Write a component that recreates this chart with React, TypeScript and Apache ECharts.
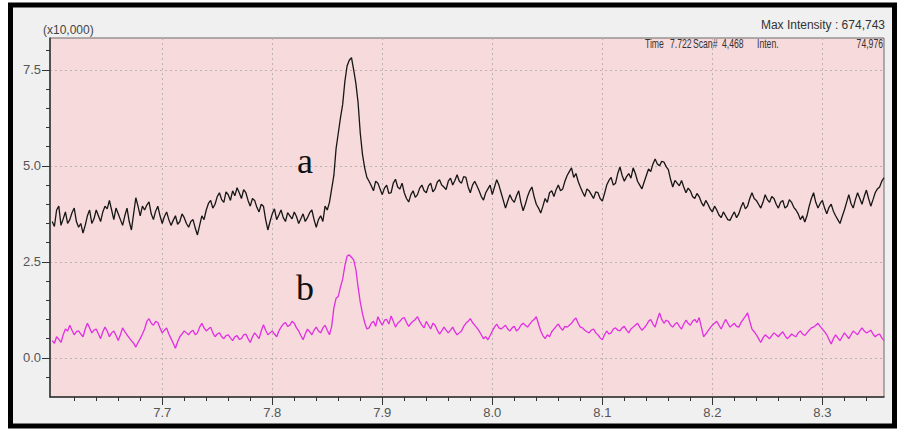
import React, { useEffect, useRef } from "react";
import * as echarts from "echarts";

// Scan time axis (min) of the sampled trace
const scanStart = 7.6;
const scanStep = 0.002;

// Trace a (black), intensity in units of x10,000
const traceA = [
  3.55, 3.42, 3.85, 3.95, 3.45, 3.62, 3.8, 3.5, 3.6, 3.78, 3.9, 3.55, 3.4, 3.5, 3.25, 3.45, 3.7, 3.85, 3.5, 3.62,
  3.85, 3.7, 3.55, 3.8, 3.95, 3.88, 4.1, 3.85, 3.6, 3.9, 3.75, 3.6, 3.45, 3.7, 3.9, 3.55, 3.33, 3.75, 4.17, 3.95,
  3.7, 3.95, 3.85, 3.98, 4.06, 3.75, 3.6, 3.82, 3.95, 3.7, 3.5, 3.68, 3.8, 3.6, 3.45, 3.58, 3.7, 3.48, 3.55, 3.75,
  3.65, 3.5, 3.4, 3.55, 3.6, 3.38, 3.2, 3.45, 3.7, 3.6, 3.85, 4.02, 4.1, 3.9, 4.0, 4.2, 4.3, 4.12, 4.05, 4.32,
  4.25, 4.1, 4.35, 4.22, 4.43, 4.3, 4.15, 4.38, 4.3, 4.1, 3.95, 4.15, 4.1, 3.92, 3.8, 4.0, 3.95, 3.6, 3.33, 3.55,
  3.75, 3.88, 3.6, 3.72, 3.85, 3.65, 3.55, 3.78, 3.7, 3.62, 3.8, 3.68, 3.5, 3.62, 3.75, 3.55, 3.65, 3.78, 3.85, 3.6,
  3.4, 3.6, 3.7, 3.55, 3.95, 3.85, 4.05, 4.4, 4.75, 5.45, 5.85, 6.25, 6.6, 7.2, 7.6, 7.75, 7.82, 7.5, 7.15, 6.65,
  5.85, 5.3, 4.95, 4.7, 4.6, 4.48, 4.35, 4.6, 4.55, 4.4, 4.25, 4.42, 4.5, 4.28, 4.3, 4.55, 4.65, 4.45, 4.4, 4.55,
  4.3, 4.15, 4.06, 4.25, 4.35, 4.18, 4.25, 4.42, 4.5, 4.35, 4.3, 4.48, 4.55, 4.32, 4.4, 4.58, 4.64, 4.5, 4.45, 4.38,
  4.6, 4.68, 4.5, 4.62, 4.77, 4.6, 4.55, 4.72, 4.7, 4.45, 4.3, 4.5, 4.6, 4.48, 4.35, 4.2, 4.11, 4.3, 4.4, 4.5,
  4.25, 4.45, 4.64, 4.5, 4.3, 4.1, 3.9, 4.08, 4.25, 4.12, 4.05, 4.22, 4.35, 4.05, 3.83, 4.0, 4.2, 4.35, 4.45, 4.2,
  4.0, 3.9, 3.77, 3.95, 4.15, 4.05, 4.3, 4.35, 4.2, 4.38, 4.5, 4.35, 4.4, 4.6, 4.75, 4.85, 4.95, 4.7, 4.8, 4.6,
  4.45, 4.32, 4.2, 4.4, 4.35, 4.25, 4.15, 4.32, 4.3, 4.15, 4.08, 4.28, 4.5, 4.62, 4.7, 4.5, 4.55, 4.8, 4.97, 4.75,
  4.6, 4.72, 4.8, 4.68, 4.95, 4.8, 4.6, 4.5, 4.4, 4.58, 4.75, 4.92, 4.85, 5.05, 5.18, 5.05, 5.0, 5.12, 5.1, 4.98,
  4.9, 4.65, 4.45, 4.62, 4.55, 4.48, 4.62, 4.45, 4.3, 4.42, 4.35, 4.2, 4.15, 4.28, 4.2, 4.05, 3.95, 4.1, 4.0, 3.88,
  3.8, 3.95, 3.85, 3.72, 3.65, 3.8, 3.7, 3.6, 3.58, 3.7, 3.8, 3.65, 3.75, 3.92, 4.05, 3.88, 3.95, 4.15, 4.3, 4.15,
  4.1, 4.0, 3.9, 4.05, 4.25, 4.12, 4.05, 4.2, 4.15, 4.0, 3.9, 4.05, 4.1, 3.9, 3.95, 4.12, 4.05, 3.92, 3.85, 3.75,
  3.6, 3.7, 3.54, 3.7, 3.95, 4.15, 4.3, 4.05, 3.9, 4.02, 4.1, 3.9, 3.75, 3.92, 4.0, 3.82, 3.7, 3.6, 3.5, 3.68,
  3.85, 4.05, 4.25, 4.02, 3.9, 4.12, 4.3, 4.15, 4.0, 4.2, 4.37, 4.15, 3.95, 4.12, 4.3, 4.4, 4.45, 4.6, 4.69,
];

// Trace b (magenta), intensity in units of x10,000
const traceB = [
  0.45, 0.38, 0.55, 0.48, 0.4, 0.6, 0.75, 0.7, 0.85, 0.72, 0.6, 0.68, 0.7, 0.62, 0.55, 0.75, 0.9, 0.78, 0.65, 0.72,
  0.75, 0.62, 0.5, 0.68, 0.8, 0.7, 0.55, 0.65, 0.7, 0.58, 0.45, 0.6, 0.78, 0.68, 0.6, 0.52, 0.45, 0.38, 0.28, 0.4,
  0.5, 0.62, 0.75, 0.95, 1.02, 0.9, 0.85, 0.95, 0.92, 0.78, 0.65, 0.72, 0.78, 0.62, 0.5, 0.38, 0.25, 0.42, 0.55, 0.62,
  0.7, 0.65, 0.6, 0.68, 0.72, 0.6, 0.65, 0.8, 0.9, 0.78, 0.7, 0.75, 0.8, 0.65, 0.55, 0.62, 0.65, 0.55, 0.5, 0.58,
  0.6, 0.52, 0.45, 0.55, 0.58, 0.48, 0.5, 0.6, 0.62, 0.5, 0.4, 0.55, 0.65, 0.58, 0.5, 0.7, 0.86, 0.72, 0.6, 0.65,
  0.7, 0.62, 0.55, 0.7, 0.8, 0.88, 0.92, 0.82, 0.85, 0.95, 0.9, 0.78, 0.7, 0.58, 0.47, 0.62, 0.75, 0.68, 0.6, 0.72,
  0.8, 0.7, 0.65, 0.78, 0.85, 0.72, 0.6, 0.82, 1.3, 1.55, 1.6, 1.85, 2.05, 2.4, 2.65, 2.68, 2.62, 2.55, 2.3, 1.85,
  1.45, 1.15, 0.92, 0.75, 0.78, 0.9, 0.95, 0.82, 1.07, 0.95, 0.85, 0.98, 1.0, 0.88, 1.09, 0.95, 0.8, 0.9, 0.95, 1.02,
  1.05, 0.92, 0.82, 0.9, 0.95, 1.0, 1.07, 0.95, 0.85, 0.78, 0.95, 0.85, 0.75, 0.9, 0.85, 0.72, 0.62, 0.7, 0.8, 0.72,
  0.65, 0.72, 0.8, 0.68, 0.6, 0.65, 0.7, 0.82, 0.9, 0.95, 1.02, 0.92, 0.85, 0.78, 0.7, 0.6, 0.5, 0.55, 0.47, 0.58,
  0.7, 0.8, 0.88, 0.78, 0.75, 0.8, 0.85, 0.75, 0.7, 0.78, 0.82, 0.7, 0.75, 0.85, 0.9, 0.85, 0.8, 0.88, 0.95, 1.0,
  1.07, 0.88, 0.7, 0.58, 0.5, 0.6, 0.55, 0.68, 0.75, 0.82, 0.88, 0.78, 0.72, 0.82, 0.8, 0.85, 0.9, 0.98, 1.04, 0.9,
  0.8, 0.78, 0.72, 0.68, 0.65, 0.72, 0.75, 0.65, 0.6, 0.52, 0.47, 0.6, 0.7, 0.62, 0.65, 0.75, 0.78, 0.72, 0.7, 0.78,
  0.82, 0.72, 0.65, 0.75, 0.8, 0.85, 0.9, 0.8, 0.72, 0.78, 0.85, 0.95, 1.0, 0.88, 0.8, 1.0, 1.17, 1.0, 0.9, 0.98,
  0.95, 0.85, 0.8, 0.88, 0.92, 0.82, 0.75, 0.88, 0.98, 0.9, 0.85, 0.95, 1.0, 0.92, 1.05, 0.8, 0.55, 0.62, 0.7, 0.78,
  0.85, 0.9, 0.95, 0.85, 0.75, 0.88, 1.0, 0.9, 0.8, 0.85, 0.9, 0.82, 0.8, 0.92, 1.0, 1.08, 1.17, 0.95, 0.75, 0.68,
  0.6, 0.5, 0.4, 0.52, 0.6, 0.55, 0.5, 0.58, 0.65, 0.6, 0.55, 0.62, 0.68, 0.58, 0.5, 0.55, 0.62, 0.58, 0.55, 0.65,
  0.7, 0.62, 0.58, 0.65, 0.72, 0.78, 0.8, 0.85, 0.9, 0.82, 0.75, 0.68, 0.6, 0.48, 0.36, 0.5, 0.6, 0.52, 0.45, 0.55,
  0.65, 0.58, 0.5, 0.6, 0.7, 0.65, 0.6, 0.7, 0.78, 0.7, 0.65, 0.68, 0.72, 0.62, 0.55, 0.6, 0.62, 0.52, 0.45,
];

const xMajorTicks = [7.7, 7.8, 7.9, 8.0, 8.1, 8.2, 8.3];
const xMinorTicks = [
  7.62, 7.64, 7.66, 7.68, 7.72, 7.74, 7.76, 7.78, 7.82, 7.84, 7.86, 7.88,
  7.92, 7.94, 7.96, 7.98, 8.02, 8.04, 8.06, 8.08, 8.12, 8.14, 8.16, 8.18,
  8.22, 8.24, 8.26, 8.28, 8.32, 8.34,
];
const yMajorTicks = [0, 2.5, 5.0, 7.5];
const yMinorTicks = [-0.5, 0.5, 1.0, 1.5, 2.0, 3.0, 3.5, 4.0, 4.5, 5.5, 6.0, 6.5, 7.0, 8.0];

// Status line texts
const statusTexts = ["Time", "7.722", "Scan#", "4,468", "Inten."];
const statusX = [645, 670, 693, 722, 757];
const statusValue = "74,976";

const X_MIN = 7.598;
const X_MAX = 8.356;
const Y_MIN = -1.02;
const Y_MAX = 8.33;

const FONT = "'Liberation Sans', Arial, sans-serif";

export default function App() {
  const ref = useRef<HTMLDivElement>(null);

  useEffect(() => {
    if (!ref.current) return;
    const chart = echarts.init(ref.current, null, { renderer: "svg" });
    const toPoints = (vals: number[]) =>
      vals.map((v, i) => [scanStart + i * scanStep, v]);

    const tickStyle = { color: "#333", width: 1 };
    const statusStyle = (text: string, align: string) => ({
      text,
      fill: "#333",
      font: `12px ${FONT}`,
      verticalAlign: "middle",
      align,
    });

    const option: any = {
      animation: false,
      backgroundColor: "#ffffff",
      grid: {
        left: 50,
        right: 13,
        top: 38,
        bottom: 33,
        show: true,
        backgroundColor: "#f6dadc",
        borderColor: "#6a6a6a",
        borderWidth: 1,
      },
      xAxis: [
        {
          type: "value",
          min: X_MIN,
          max: X_MAX,
          position: "bottom",
          axisLine: { show: true, onZero: false, lineStyle: { color: "#333", width: 1.5 } },
          axisTick: { show: true, length: 8, customValues: xMajorTicks, lineStyle: tickStyle },
          axisLabel: {
            customValues: xMajorTicks,
            margin: 9,
            color: "#555",
            fontSize: 13,
            fontFamily: FONT,
            formatter: (v: number) => v.toFixed(1),
          },
          splitLine: { show: true, lineStyle: { color: "#bdb1b3", type: [2, 3], width: 1 } },
        },
        {
          type: "value",
          min: X_MIN,
          max: X_MAX,
          position: "bottom",
          axisLine: { show: false, onZero: false },
          axisTick: { show: true, length: 4, customValues: xMinorTicks, lineStyle: tickStyle },
          axisLabel: { show: false },
          splitLine: { show: false },
        },
      ],
      yAxis: [
        {
          type: "value",
          min: Y_MIN,
          max: Y_MAX,
          position: "left",
          axisLine: { show: true, onZero: false, lineStyle: { color: "#333", width: 1.5 } },
          axisTick: { show: true, length: 8, customValues: yMajorTicks, lineStyle: tickStyle },
          axisLabel: {
            customValues: yMajorTicks,
            margin: 9,
            color: "#555",
            fontSize: 13,
            fontFamily: FONT,
            formatter: (v: number) => v.toFixed(1),
          },
          splitLine: { show: true, lineStyle: { color: "#bdb1b3", type: [2, 3], width: 1 } },
        },
        {
          type: "value",
          min: Y_MIN,
          max: Y_MAX,
          position: "left",
          axisLine: { show: false, onZero: false },
          axisTick: { show: true, length: 4, customValues: yMinorTicks, lineStyle: tickStyle },
          axisLabel: { show: false },
          splitLine: { show: false },
        },
      ],
      series: [
        {
          name: "a",
          type: "line",
          xAxisIndex: 0,
          yAxisIndex: 0,
          data: toPoints(traceA),
          showSymbol: false,
          symbol: "none",
          lineStyle: { color: "#161616", width: 1.3 },
          z: 3,
        },
        {
          name: "b",
          type: "line",
          xAxisIndex: 0,
          yAxisIndex: 0,
          data: toPoints(traceB),
          showSymbol: false,
          symbol: "none",
          lineStyle: { color: "#e22ee2", width: 1.3 },
          z: 3,
        },
      ],
      graphic: [
        {
          type: "rect",
          z: -10,
          silent: true,
          shape: { x: 10.5, y: 5, width: 884, height: 421 },
          style: { fill: "#f0f0f0", stroke: "#000000", lineWidth: 5 },
        },
        {
          type: "text",
          x: 43,
          y: 30,
          style: { text: "(x10,000)", fill: "#444", font: `12px ${FONT}`, verticalAlign: "middle", align: "left" },
        },
        {
          type: "text",
          x: 885,
          y: 25,
          style: { text: "Max Intensity : 674,743", fill: "#333", font: `12px ${FONT}`, verticalAlign: "middle", align: "right" },
        },
        ...statusTexts.map((t, i) => ({
          type: "text",
          x: statusX[i],
          y: 44,
          scaleX: 0.72,
          z: 10,
          style: statusStyle(t, "left"),
        })),
        {
          type: "text",
          x: 883,
          y: 44,
          scaleX: 0.72,
          z: 10,
          style: statusStyle(statusValue, "right"),
        },
        {
          type: "text",
          x: 305,
          y: 161,
          z: 10,
          style: { text: "a", fill: "#111", font: `36px 'Liberation Serif', 'Times New Roman', serif`, verticalAlign: "middle", align: "center" },
        },
        {
          type: "text",
          x: 305,
          y: 288,
          z: 10,
          style: { text: "b", fill: "#111", font: `36px 'Liberation Serif', 'Times New Roman', serif`, verticalAlign: "middle", align: "center" },
        },
      ],
    };
    chart.setOption(option);
    return () => chart.dispose();
  }, []);

  return (
    <div
      ref={ref}
      style={{ position: "absolute", left: 0, top: 0, width: 897, height: 430 }}
    />
  );
}
